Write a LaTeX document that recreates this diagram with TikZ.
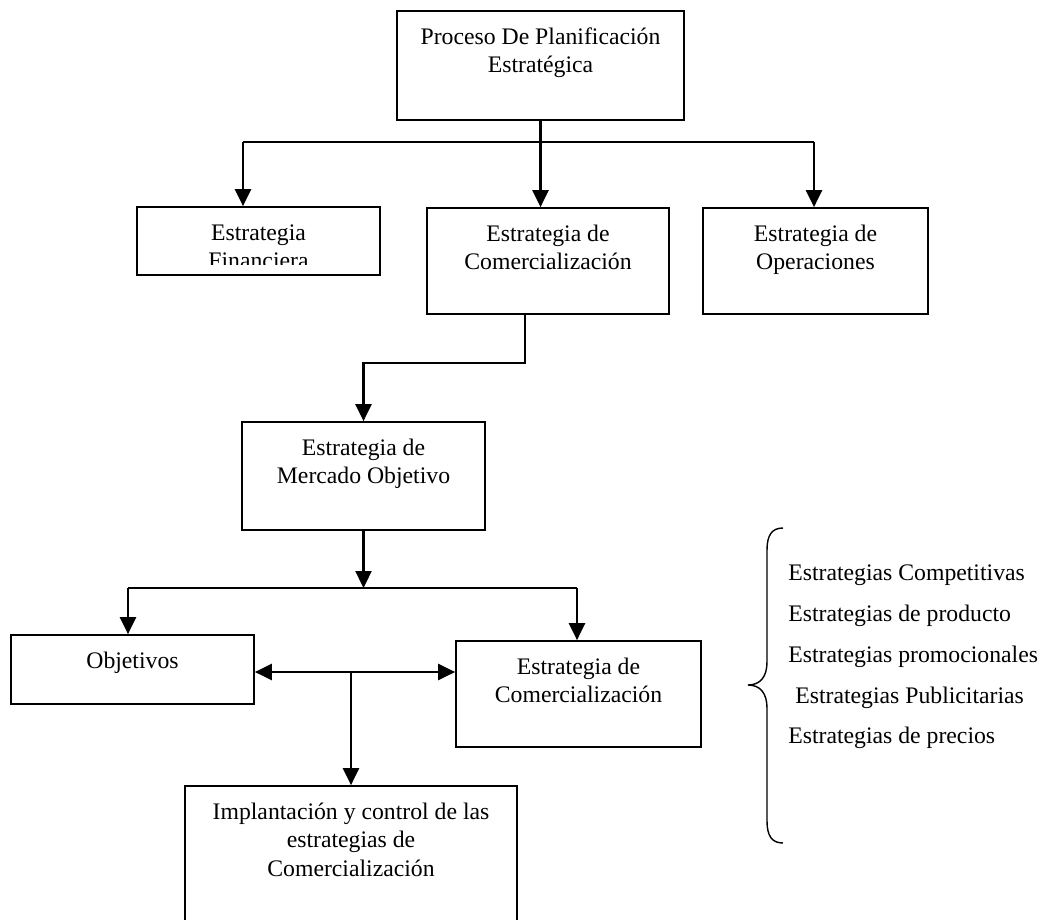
\documentclass[tikz,border=0pt]{standalone}
\usepackage{fontspec}
\setmainfont{Liberation Serif}
\usetikzlibrary{arrows.meta}
\usetikzlibrary{positioning}

\tikzset{
  caja/.style={draw, line width=1pt, inner sep=0pt},
  txt/.style={align=center, inner sep=0pt, anchor=north, font=\fontsize{13.5}{16.2}\selectfont},
  lista/.style={inner sep=0pt, anchor=west, font=\fontsize{13.5}{16.2}\selectfont},
  linea/.style={line width=1.3pt},
  flecha/.style={line width=1.3pt, -{Triangle[length=0.34cm,width=0.32cm]}},
  dflecha/.style={line width=1.3pt, {Triangle[length=0.34cm,width=0.32cm]}-{Triangle[length=0.34cm,width=0.32cm]}},
}

\begin{document}
\begin{tikzpicture}[x=0.02cm,y=-0.02cm]
\useasboundingbox (0,0) rectangle (1047,919);
\clip (0,0) rectangle (1047,919);

% cajas
\node[caja, minimum width=5.74cm, minimum height=2.18cm] (plan) at (540.5,65.5) {};
\node[caja, minimum width=4.86cm, minimum height=1.36cm] (fin) at (258.5,241) {};
\node[caja, minimum width=4.84cm, minimum height=2.12cm] (com) at (548,261) {};
\node[caja, minimum width=4.5cm, minimum height=2.12cm] (ope) at (815.5,261) {};
\node[caja, minimum width=4.86cm, minimum height=2.16cm] (mer) at (363.5,476) {};
\node[caja, minimum width=4.86cm, minimum height=1.38cm] (obj) at (132.5,669.5) {};
\node[caja, minimum width=4.9cm, minimum height=2.12cm] (com2) at (578.5,694) {};
\node[caja, minimum width=6.64cm, minimum height=3.2cm] (imp) at (351,866) {};

% textos
\node[txt] (plantxt) at ([yshift=-0.28cm]plan.north) {\strut Proceso De Planificación\\Estratégica};
\begin{scope}
\clip (fin.north west) rectangle ([yshift=0.22cm]fin.south east);
\node[txt] (fintxt) at ([yshift=-0.28cm]fin.north) {\strut Estrategia\\Financiera};
\end{scope}
\node[txt] (comtxt) at ([yshift=-0.28cm]com.north) {\strut Estrategia de\\Comercialización};
\node[txt] (opetxt) at ([yshift=-0.28cm]ope.north) {\strut Estrategia de\\Operaciones};
\node[txt] (mertxt) at ([yshift=-0.28cm]mer.north) {\strut Estrategia de\\Mercado Objetivo};
\node[txt] (objtxt) at ([yshift=-0.28cm]obj.north) {\strut Objetivos};
\node[txt] (com2txt) at ([yshift=-0.28cm]com2.north) {\strut Estrategia de\\Comercialización};
\node[txt] (imptxt) at ([yshift=-0.28cm]imp.north) {\strut Implantación y control de las\\estrategias de\\Comercialización};

% conexiones
\coordinate (busL) at (243,142);
\coordinate (busR) at (814,142);
\draw[linea] (busL) -- (busR);
\draw[flecha] (busL) -- (busL |- fin.north);
\draw[flecha] (plan.south) -- (plan.south |- com.north);
\draw[flecha] (busR) -- (busR |- ope.north);
\draw[flecha] ([xshift=-0.46cm]com.south) -- ++(0,48) -| (mer.north);

\coordinate (bus2L) at (128,588);
\coordinate (bus2R) at (577,588);
\draw[linea] (bus2L) -- (bus2R);
\draw[flecha] (mer.south) -- (mer.south |- bus2L);
\draw[flecha] (bus2L) -- (bus2L |- obj.north);
\draw[flecha] (bus2R) -- (bus2R |- com2.north);
\draw[dflecha] ([yshift=-0.05cm]obj.east) -- ([yshift=-0.05cm]obj.east -| com2.west);
\coordinate (med) at (351,672);
\draw[flecha] (med) -- (imp.north);

% llave
\draw[line width=0.8pt] (783,528) .. controls (772,528) and (767,535) .. (767,550)
  -- (767,662) .. controls (767,677) and (760,685) .. (748,685)
  .. controls (760,685) and (767,693) .. (767,708)
  -- (767,821) .. controls (767,836) and (772,843) .. (783,843);

\node[lista] (l1) at (788,575) {Estrategias Competitivas};
\node[lista] (l2) at (788,616) {Estrategias de producto};
\node[lista] (l3) at (788,657) {Estrategias promocionales};
\node[lista] (l4) at (795,698) {Estrategias Publicitarias};
\node[lista] (l5) at (788,738) {Estrategias de precios};
\end{tikzpicture}
\end{document}
